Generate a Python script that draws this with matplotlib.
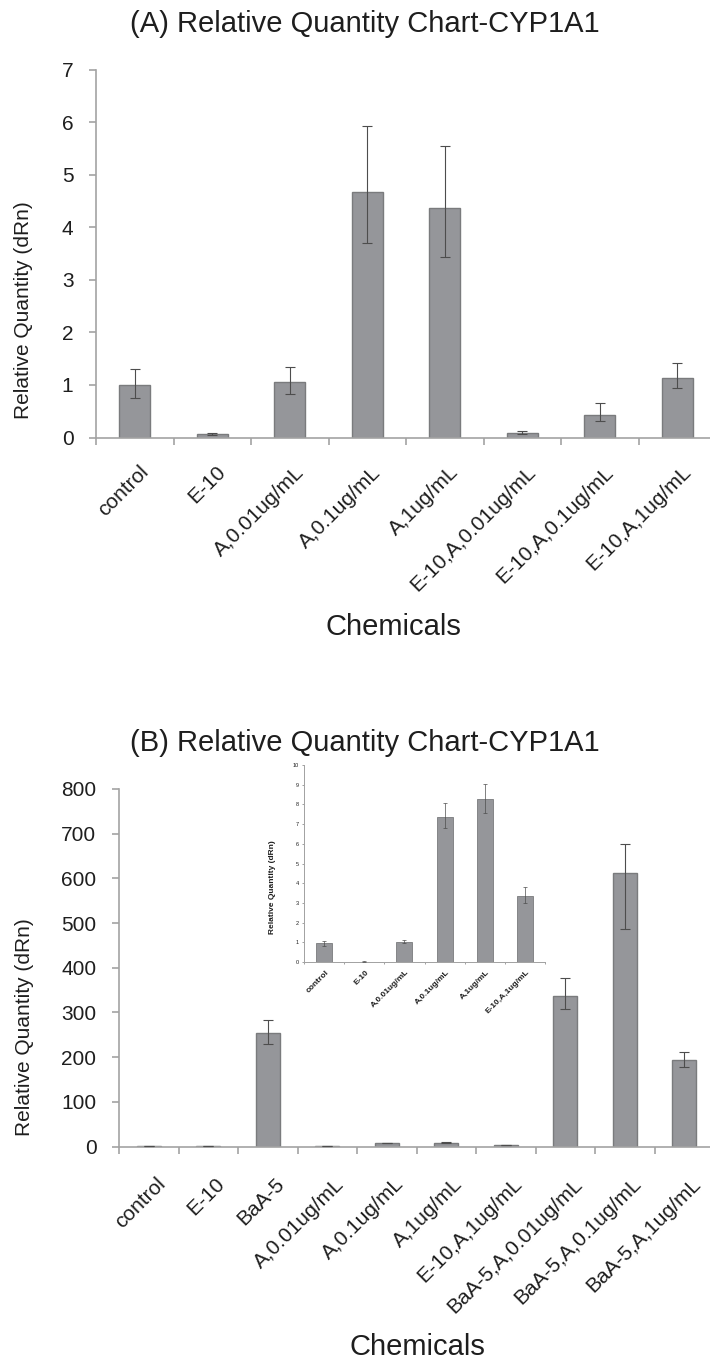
import numpy as np
import matplotlib
matplotlib.use("Agg")
import matplotlib.pyplot as plt
from matplotlib.transforms import ScaledTranslation

plt.rcParams["font.family"] = ["Liberation Sans", "DejaVu Sans"]

# ── Panel A data ──────────────────────────────────────────────────────────────
labels_a = ["control", "E-10", "A,0.01ug/mL", "A,0.1ug/mL", "A,1ug/mL",
            "E-10,A,0.01ug/mL", "E-10,A,0.1ug/mL", "E-10,A,1ug/mL"]
rq_a = np.array([0.99, 0.06, 1.05, 4.67, 4.36, 0.095, 0.42, 1.14])
rq_a_min = np.array([0.76, 0.045, 0.82, 3.70, 3.43, 0.075, 0.32, 0.94])
rq_a_max = np.array([1.31, 0.085, 1.34, 5.93, 5.54, 0.115, 0.65, 1.41])

# ── Panel B data ──────────────────────────────────────────────────────────────
labels_b = ["control", "E-10", "BaA-5", "A,0.01ug/mL", "A,0.1ug/mL",
            "A,1ug/mL", "E-10,A,1ug/mL", "BaA-5,A,0.01ug/mL",
            "BaA-5,A,0.1ug/mL", "BaA-5,A,1ug/mL"]
rq_b = np.array([0.94, 0.02, 255, 1.03, 7.37, 8.25, 3.36, 336, 611, 193.5])
rq_b_min = np.array([0.83, 0.01, 230, 0.95, 6.78, 7.58, 2.98, 307, 487, 178])
rq_b_max = np.array([1.07, 0.03, 282, 1.14, 8.07, 9.02, 3.81, 377, 676, 212])

# inset repeats the low-level treatments of panel B
inset_idx = [0, 1, 3, 4, 5, 6]

BAR = "#95969a"
EDGE = "#7a7b7d"
SPINE = "#a3a3a3"
ERR = "#4d4d4d"
TXT = "#1e1e1e"

W, H = 710, 1365
fig = plt.figure(figsize=(W / 100, H / 100), dpi=100)


def axes_px(left, right, top, bottom):
    return fig.add_axes([left / W, 1 - bottom / H, (right - left) / W, (bottom - top) / H])


def bar_panel(ax, labels, vals, lo, hi, ymax, ystep, fs, lw=1.0, cap=3.3,
              tick_len=5, lab_dx=3, lab_dy=18, elw=0.8):
    n = len(labels)
    x = np.arange(n)
    ax.bar(x, vals, width=0.4, color=BAR, edgecolor=EDGE, linewidth=lw, zorder=2)
    ax.errorbar(x, vals, yerr=[vals - lo, hi - vals], fmt="none", ecolor=ERR,
                elinewidth=elw, capsize=cap, capthick=elw, zorder=3)
    ax.set_xlim(-0.5, n - 0.5)
    ax.set_ylim(0, ymax)
    ax.set_yticks(np.arange(0, ymax + ystep / 2, ystep))
    ax.set_xticks(np.arange(n + 1) - 0.5)
    ax.set_xticklabels([])
    for s in ("top", "right"):
        ax.spines[s].set_visible(False)
    for s in ("left", "bottom"):
        ax.spines[s].set_color(SPINE)
        ax.spines[s].set_linewidth(lw * 1.2)
    ax.tick_params(axis="both", color=SPINE, width=lw * 1.2, length=tick_len,
                   labelsize=fs, labelcolor=TXT)
    ax.tick_params(axis="y", pad=fs * 0.75)
    ax.set_facecolor("none")
    off = ScaledTranslation(lab_dx / 72, -lab_dy / 72, fig.dpi_scale_trans)
    for i, lab in enumerate(labels):
        ax.text(i, 0, lab, transform=ax.get_xaxis_transform() + off,
                rotation=45, rotation_mode="anchor", ha="right", va="top",
                fontsize=fs, color=TXT)


# ── (A) ───────────────────────────────────────────────────────────────────────
ax_a = axes_px(96, 716, 69.5, 437.5)
bar_panel(ax_a, labels_a, rq_a, rq_a_min, rq_a_max, 7, 1, 15)
fig.text(365 / W, 1 - 24 / H, "(A) Relative Quantity Chart-CYP1A1",
         ha="center", va="center", fontsize=21, color=TXT)
fig.text(24 / W, 1 - 310 / H, "Relative Quantity (dRn)", rotation=90,
         ha="center", va="center", fontsize=15, color=TXT)
fig.text(393 / W, 1 - 627 / H, "Chemicals", ha="center", va="center",
         fontsize=21, color=TXT)

# ── (B) ───────────────────────────────────────────────────────────────────────
ax_b = axes_px(119, 714, 789, 1146.5)
bar_panel(ax_b, labels_b, rq_b, rq_b_min, rq_b_max, 800, 100, 15,
          lab_dx=5, lab_dy=20)
fig.text(365 / W, 1 - 743 / H, "(B) Relative Quantity Chart-CYP1A1",
         ha="center", va="center", fontsize=21, color=TXT)
fig.text(25 / W, 1 - 1027 / H, "Relative Quantity (dRn)", rotation=90,
         ha="center", va="center", fontsize=15, color=TXT)
fig.text(417 / W, 1 - 1347 / H, "Chemicals", ha="center", va="center",
         fontsize=21, color=TXT)

# ── inset: low-level treatments on a 0–10 scale ───────────────────────────────
ax_i = axes_px(304, 545, 765, 962)
bar_panel(ax_i, [labels_b[i] for i in inset_idx], rq_b[inset_idx],
          rq_b_min[inset_idx], rq_b_max[inset_idx], 10, 1, 4,
          lw=0.6, cap=1.5, tick_len=1.5, lab_dx=1, lab_dy=5, elw=0.5)
ax_i.tick_params(axis="y", pad=2)
for t in ax_i.texts:
    t.set_fontsize(6)
    t.set_fontweight("bold")
fig.text(273 / W, 1 - 887 / H, "Relative Quantity (dRn)", rotation=90,
         ha="center", va="center", fontsize=6, fontweight="bold", color=TXT)

fig.savefig("out.png", dpi=100, facecolor="white")
